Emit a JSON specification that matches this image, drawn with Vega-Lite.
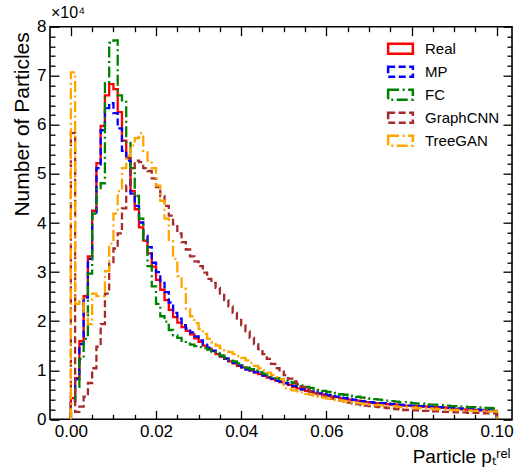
{
  "$schema": "https://vega.github.io/schema/vega-lite/v6.json",
  "width": 462,
  "height": 392.6,
  "autosize": {"type": "none"},
  "padding": {"left": 50, "top": 26.7, "right": 8, "bottom": 49.7},
  "title": {"text": "×10⁴", "anchor": "start", "frame": "group", "fontSize": 16, "fontWeight": "normal", "font": "Liberation Sans", "color": "black", "offset": -3, "dx": 1},
  "config": {
    "view": {"stroke": "black", "strokeWidth": 1.6},
    "font": "Liberation Sans",
    "axis": {"domain": false, "grid": false, "tickColor": "black", "tickWidth": 1.3, "labelColor": "black", "labelFont": "Liberation Sans", "labelFontSize": 17, "labelOverlap": false, "labelFlush": false, "titleColor": "black", "titleFont": "Liberation Sans", "titleFontWeight": "normal"}
  },
  "data": {"values": [
    {"i":0,"x":0,"Real":0,"MP":0,"FC":0,"GraphCNN":0,"TreeGAN":0},
    {"i":1,"x":0.000,"Real":4300,"MP":3700,"FC":3100,"GraphCNN":58300,"TreeGAN":70700},
    {"i":2,"x":0.001,"Real":8400,"MP":8200,"FC":6600,"GraphCNN":1500,"TreeGAN":23500},
    {"i":3,"x":0.002,"Real":15900,"MP":15300,"FC":12300,"GraphCNN":2600,"TreeGAN":24600},
    {"i":4,"x":0.003,"Real":25100,"MP":24800,"FC":16400,"GraphCNN":4600,"TreeGAN":21500},
    {"i":5,"x":0.004,"Real":33200,"MP":32700,"FC":29700,"GraphCNN":7400,"TreeGAN":19400},
    {"i":6,"x":0.005,"Real":42500,"MP":42100,"FC":41900,"GraphCNN":10400,"TreeGAN":25600},
    {"i":7,"x":0.006,"Real":52200,"MP":51200,"FC":47100,"GraphCNN":14800,"TreeGAN":25100},
    {"i":8,"x":0.007,"Real":59800,"MP":58900,"FC":48100,"GraphCNN":19400,"TreeGAN":25100},
    {"i":9,"x":0.008,"Real":66000,"MP":63400,"FC":68500,"GraphCNN":25600,"TreeGAN":30200},
    {"i":10,"x":0.009,"Real":68300,"MP":64400,"FC":76700,"GraphCNN":31700,"TreeGAN":35800},
    {"i":11,"x":0.010,"Real":67300,"MP":62400,"FC":77200,"GraphCNN":34800,"TreeGAN":41900},
    {"i":12,"x":0.011,"Real":62600,"MP":59300,"FC":66000,"GraphCNN":37900,"TreeGAN":46500},
    {"i":13,"x":0.012,"Real":56800,"MP":54700,"FC":65000,"GraphCNN":43000,"TreeGAN":51200},
    {"i":14,"x":0.013,"Real":53200,"MP":52700,"FC":56300,"GraphCNN":47600,"TreeGAN":53700},
    {"i":15,"x":0.014,"Real":46500,"MP":46000,"FC":51200,"GraphCNN":51200,"TreeGAN":55800},
    {"i":16,"x":0.015,"Real":42800,"MP":43500,"FC":45500,"GraphCNN":52700,"TreeGAN":57300},
    {"i":17,"x":0.016,"Real":39100,"MP":40100,"FC":40900,"GraphCNN":52400,"TreeGAN":58300},
    {"i":18,"x":0.017,"Real":36400,"MP":37400,"FC":36400,"GraphCNN":51200,"TreeGAN":54700},
    {"i":19,"x":0.018,"Real":33800,"MP":35100,"FC":31200,"GraphCNN":50600,"TreeGAN":52700},
    {"i":20,"x":0.019,"Real":31100,"MP":31900,"FC":27100,"GraphCNN":49100,"TreeGAN":51200},
    {"i":21,"x":0.020,"Real":28400,"MP":30000,"FC":23500,"GraphCNN":47300,"TreeGAN":47600},
    {"i":22,"x":0.021,"Real":26400,"MP":27800,"FC":21000,"GraphCNN":45500,"TreeGAN":44500},
    {"i":23,"x":0.022,"Real":24300,"MP":25900,"FC":19900,"GraphCNN":43500,"TreeGAN":40900},
    {"i":24,"x":0.023,"Real":22300,"MP":23800,"FC":18200,"GraphCNN":41500,"TreeGAN":36300},
    {"i":25,"x":0.024,"Real":20800,"MP":21700,"FC":17100,"GraphCNN":39700,"TreeGAN":32700},
    {"i":26,"x":0.025,"Real":19700,"MP":20500,"FC":16600,"GraphCNN":37900,"TreeGAN":29200},
    {"i":27,"x":0.026,"Real":18800,"MP":19200,"FC":16000,"GraphCNN":36100,"TreeGAN":26600},
    {"i":28,"x":0.027,"Real":18000,"MP":18500,"FC":15400,"GraphCNN":34600,"TreeGAN":22500},
    {"i":29,"x":0.028,"Real":17300,"MP":17700,"FC":15200,"GraphCNN":33200,"TreeGAN":21000},
    {"i":30,"x":0.029,"Real":16500,"MP":16900,"FC":14900,"GraphCNN":32200,"TreeGAN":19600},
    {"i":31,"x":0.030,"Real":15800,"MP":16100,"FC":14700,"GraphCNN":31200,"TreeGAN":18400},
    {"i":32,"x":0.031,"Real":15000,"MP":15200,"FC":14500,"GraphCNN":29900,"TreeGAN":17400},
    {"i":33,"x":0.032,"Real":14400,"MP":14600,"FC":14200,"GraphCNN":28600,"TreeGAN":16400},
    {"i":34,"x":0.033,"Real":13900,"MP":14000,"FC":13800,"GraphCNN":27800,"TreeGAN":15700},
    {"i":35,"x":0.034,"Real":13300,"MP":13400,"FC":13400,"GraphCNN":26800,"TreeGAN":15000},
    {"i":36,"x":0.035,"Real":12800,"MP":12900,"FC":13000,"GraphCNN":25600,"TreeGAN":14500},
    {"i":37,"x":0.036,"Real":12300,"MP":12400,"FC":12600,"GraphCNN":24300,"TreeGAN":14100},
    {"i":38,"x":0.037,"Real":11800,"MP":11900,"FC":12200,"GraphCNN":23000,"TreeGAN":13700},
    {"i":39,"x":0.038,"Real":11400,"MP":11500,"FC":11800,"GraphCNN":21700,"TreeGAN":13300},
    {"i":40,"x":0.039,"Real":10900,"MP":11000,"FC":11400,"GraphCNN":20500,"TreeGAN":12900},
    {"i":41,"x":0.040,"Real":10600,"MP":10600,"FC":11000,"GraphCNN":19200,"TreeGAN":12500},
    {"i":42,"x":0.041,"Real":10200,"MP":10200,"FC":10500,"GraphCNN":17900,"TreeGAN":12000},
    {"i":43,"x":0.042,"Real":9900,"MP":9900,"FC":10200,"GraphCNN":16600,"TreeGAN":11500},
    {"i":44,"x":0.043,"Real":9500,"MP":9600,"FC":9900,"GraphCNN":15300,"TreeGAN":10900},
    {"i":45,"x":0.044,"Real":9200,"MP":9200,"FC":9600,"GraphCNN":14300,"TreeGAN":10400},
    {"i":46,"x":0.045,"Real":8900,"MP":8900,"FC":9300,"GraphCNN":13300,"TreeGAN":10000},
    {"i":47,"x":0.046,"Real":8500,"MP":8600,"FC":9000,"GraphCNN":12300,"TreeGAN":9500},
    {"i":48,"x":0.047,"Real":8200,"MP":8300,"FC":8700,"GraphCNN":11300,"TreeGAN":9000},
    {"i":49,"x":0.048,"Real":7900,"MP":7900,"FC":8400,"GraphCNN":10400,"TreeGAN":8600},
    {"i":50,"x":0.049,"Real":7600,"MP":7700,"FC":8200,"GraphCNN":9700,"TreeGAN":8200},
    {"i":51,"x":0.050,"Real":7300,"MP":7400,"FC":7900,"GraphCNN":9000,"TreeGAN":6300},
    {"i":52,"x":0.051,"Real":7000,"MP":7100,"FC":7600,"GraphCNN":8300,"TreeGAN":6100},
    {"i":53,"x":0.052,"Real":6600,"MP":6800,"FC":7400,"GraphCNN":7700,"TreeGAN":5900},
    {"i":54,"x":0.053,"Real":6300,"MP":6400,"FC":7100,"GraphCNN":7200,"TreeGAN":5700},
    {"i":55,"x":0.054,"Real":6100,"MP":6100,"FC":6900,"GraphCNN":6600,"TreeGAN":5500},
    {"i":56,"x":0.055,"Real":5800,"MP":5900,"FC":6600,"GraphCNN":6100,"TreeGAN":5200},
    {"i":57,"x":0.056,"Real":5600,"MP":5700,"FC":6400,"GraphCNN":5700,"TreeGAN":5000},
    {"i":58,"x":0.057,"Real":5400,"MP":5500,"FC":6200,"GraphCNN":5300,"TreeGAN":4800},
    {"i":59,"x":0.058,"Real":5200,"MP":5300,"FC":6000,"GraphCNN":5000,"TreeGAN":4600},
    {"i":60,"x":0.059,"Real":5000,"MP":5100,"FC":5800,"GraphCNN":4700,"TreeGAN":4400},
    {"i":61,"x":0.060,"Real":4800,"MP":4900,"FC":5600,"GraphCNN":4400,"TreeGAN":4200},
    {"i":62,"x":0.061,"Real":4600,"MP":4700,"FC":5400,"GraphCNN":4200,"TreeGAN":4100},
    {"i":63,"x":0.062,"Real":4500,"MP":4600,"FC":5300,"GraphCNN":4000,"TreeGAN":3900},
    {"i":64,"x":0.063,"Real":4300,"MP":4400,"FC":5100,"GraphCNN":3800,"TreeGAN":3800},
    {"i":65,"x":0.064,"Real":4200,"MP":4300,"FC":5000,"GraphCNN":3600,"TreeGAN":3600},
    {"i":66,"x":0.065,"Real":4000,"MP":4100,"FC":4800,"GraphCNN":3400,"TreeGAN":3500},
    {"i":67,"x":0.066,"Real":3900,"MP":4000,"FC":4700,"GraphCNN":3200,"TreeGAN":3400},
    {"i":68,"x":0.067,"Real":3800,"MP":3900,"FC":4600,"GraphCNN":3100,"TreeGAN":3300},
    {"i":69,"x":0.068,"Real":3600,"MP":3700,"FC":4400,"GraphCNN":2900,"TreeGAN":3200},
    {"i":70,"x":0.069,"Real":3500,"MP":3600,"FC":4300,"GraphCNN":2800,"TreeGAN":3100},
    {"i":71,"x":0.070,"Real":3400,"MP":3500,"FC":4200,"GraphCNN":2700,"TreeGAN":3000},
    {"i":72,"x":0.071,"Real":3300,"MP":3400,"FC":4100,"GraphCNN":2600,"TreeGAN":2900},
    {"i":73,"x":0.072,"Real":3200,"MP":3300,"FC":4000,"GraphCNN":2500,"TreeGAN":2900},
    {"i":74,"x":0.073,"Real":3200,"MP":3300,"FC":3900,"GraphCNN":2400,"TreeGAN":2800},
    {"i":75,"x":0.074,"Real":3100,"MP":3200,"FC":3800,"GraphCNN":2300,"TreeGAN":2700},
    {"i":76,"x":0.075,"Real":3000,"MP":3100,"FC":3700,"GraphCNN":2200,"TreeGAN":2700},
    {"i":77,"x":0.076,"Real":3000,"MP":3000,"FC":3600,"GraphCNN":2100,"TreeGAN":2600},
    {"i":78,"x":0.077,"Real":2900,"MP":3000,"FC":3500,"GraphCNN":2000,"TreeGAN":2500},
    {"i":79,"x":0.078,"Real":2800,"MP":2900,"FC":3500,"GraphCNN":1900,"TreeGAN":2500},
    {"i":80,"x":0.079,"Real":2800,"MP":2800,"FC":3400,"GraphCNN":1900,"TreeGAN":2400},
    {"i":81,"x":0.080,"Real":2700,"MP":2800,"FC":3300,"GraphCNN":1800,"TreeGAN":2400},
    {"i":82,"x":0.081,"Real":2700,"MP":2700,"FC":3200,"GraphCNN":1800,"TreeGAN":2300},
    {"i":83,"x":0.082,"Real":2600,"MP":2700,"FC":3200,"GraphCNN":1700,"TreeGAN":2300},
    {"i":84,"x":0.083,"Real":2600,"MP":2600,"FC":3100,"GraphCNN":1700,"TreeGAN":2200},
    {"i":85,"x":0.084,"Real":2500,"MP":2600,"FC":3000,"GraphCNN":1600,"TreeGAN":2200},
    {"i":86,"x":0.085,"Real":2500,"MP":2500,"FC":3000,"GraphCNN":1600,"TreeGAN":2100},
    {"i":87,"x":0.086,"Real":2400,"MP":2500,"FC":2900,"GraphCNN":1600,"TreeGAN":2100},
    {"i":88,"x":0.087,"Real":2400,"MP":2400,"FC":2900,"GraphCNN":1500,"TreeGAN":2000},
    {"i":89,"x":0.088,"Real":2300,"MP":2400,"FC":2800,"GraphCNN":1500,"TreeGAN":2000},
    {"i":90,"x":0.089,"Real":2300,"MP":2300,"FC":2700,"GraphCNN":1500,"TreeGAN":1900},
    {"i":91,"x":0.090,"Real":2100,"MP":2200,"FC":2700,"GraphCNN":1400,"TreeGAN":1900},
    {"i":92,"x":0.091,"Real":2100,"MP":2200,"FC":2600,"GraphCNN":1400,"TreeGAN":1900},
    {"i":93,"x":0.092,"Real":2000,"MP":2100,"FC":2600,"GraphCNN":1400,"TreeGAN":1800},
    {"i":94,"x":0.093,"Real":2000,"MP":2100,"FC":2500,"GraphCNN":1300,"TreeGAN":1800},
    {"i":95,"x":0.094,"Real":1900,"MP":2000,"FC":2500,"GraphCNN":1300,"TreeGAN":1700},
    {"i":96,"x":0.095,"Real":1900,"MP":2000,"FC":2400,"GraphCNN":1300,"TreeGAN":1700},
    {"i":97,"x":0.096,"Real":1800,"MP":1900,"FC":2400,"GraphCNN":1300,"TreeGAN":1700},
    {"i":98,"x":0.097,"Real":1800,"MP":1900,"FC":2300,"GraphCNN":1200,"TreeGAN":1600},
    {"i":99,"x":0.098,"Real":1700,"MP":1800,"FC":2300,"GraphCNN":1200,"TreeGAN":1600},
    {"i":100,"x":0.099,"Real":1700,"MP":1800,"FC":2200,"GraphCNN":1200,"TreeGAN":1600},
    {"i":101,"x":0.100,"Real":1700,"MP":1800,"FC":2200,"GraphCNN":1200,"TreeGAN":1600},
    {"i":102,"x":0.100,"Real":0,"MP":0,"FC":0,"GraphCNN":0,"TreeGAN":0}
  ]},
  "transform": [{"fold": ["Real", "MP", "FC", "GraphCNN", "TreeGAN"], "as": ["series", "count"]}],
  "layer": [
    {
      "mark": {"type": "line", "interpolate": "step-after", "strokeWidth": 2.3},
      "encoding": {
        "x": {"field": "x", "type": "quantitative",
          "scale": {"domain": [-0.0049, 0.1036], "nice": false, "zero": false},
          "axis": {"orient": "bottom",
            "values": [0,0.005,0.01,0.015,0.02,0.025,0.03,0.035,0.04,0.045,0.05,0.055,0.06,0.065,0.07,0.075,0.08,0.085,0.09,0.095,0.1],
            "labelExpr": "abs(datum.value*50 - round(datum.value*50)) < 0.01 ? format(datum.value, '.2f') : ''",
            "tickSize": {"condition": {"test": "abs(datum.value*50 - round(datum.value*50)) < 0.01", "value": -9}, "value": -5},
            "labelPadding": 13,
            "title": "Particle pₜʳᵉˡ", "titleFontSize": 19, "titleAnchor": "end", "titleAlign": "right", "titleBaseline": "alphabetic", "titleX": 460, "titleY": 43.5}},
        "y": {"field": "count", "type": "quantitative",
          "scale": {"domain": [0, 80000], "nice": false},
          "axis": {"orient": "left",
            "values": [0,2000,4000,6000,8000,10000,12000,14000,16000,18000,20000,22000,24000,26000,28000,30000,32000,34000,36000,38000,40000,42000,44000,46000,48000,50000,52000,54000,56000,58000,60000,62000,64000,66000,68000,70000,72000,74000,76000,78000,80000],
            "labelExpr": "datum.value % 10000 == 0 ? '' + (datum.value / 10000) : ''",
            "tickSize": {"condition": {"test": "datum.value % 10000 == 0", "value": -9}, "value": -5},
            "labelPadding": 13,
            "title": "Number of Particles", "titleFontSize": 21, "titleAnchor": "end", "titleAlign": "right", "titleBaseline": "middle", "titleAngle": -90, "titleX": -28, "titleY": 5}},
        "order": {"field": "i", "type": "quantitative"},
        "color": {"field": "series", "type": "nominal",
          "scale": {"domain": ["Real", "MP", "FC", "GraphCNN", "TreeGAN"], "range": ["#ff0000", "#0000ff", "#008000", "#a52a2a", "#ffa500"]},
          "legend": {"title": null, "orient": "none", "legendX": 338, "legendY": 9.5, "direction": "vertical", "padding": 0,
            "symbolType": "M-1.1,-0.45H1.1V0.45H-1.1Z", "symbolSize": 506, "symbolStrokeWidth": 2.5, "symbolFillColor": "transparent",
            "labelFont": "Liberation Sans", "labelFontSize": 15, "labelColor": "black", "labelOffset": 12, "rowPadding": 0}},
        "strokeDash": {"field": "series", "type": "nominal",
          "scale": {"domain": ["Real", "MP", "FC", "GraphCNN", "TreeGAN"], "range": [[1, 0], [7, 3.5], [11, 3.5, 2, 3.5], [7, 3.5], [11, 3.5, 2, 3.5]]},
          "legend": {"title": null, "orient": "none", "legendX": 338, "legendY": 9.5, "direction": "vertical", "padding": 0,
            "symbolType": "M-1.1,-0.45H1.1V0.45H-1.1Z", "symbolSize": 506, "symbolStrokeWidth": 2.5, "symbolFillColor": "transparent",
            "labelFont": "Liberation Sans", "labelFontSize": 15, "labelColor": "black", "labelOffset": 12, "rowPadding": 0}}
      }
    },
    {
      "mark": {"type": "line", "opacity": 0},
      "encoding": {
        "x": {"field": "x", "type": "quantitative",
          "axis": {"orient": "top", "labels": false, "title": null,
            "values": [0,0.005,0.01,0.015,0.02,0.025,0.03,0.035,0.04,0.045,0.05,0.055,0.06,0.065,0.07,0.075,0.08,0.085,0.09,0.095,0.1],
            "tickSize": {"condition": {"test": "abs(datum.value*50 - round(datum.value*50)) < 0.01", "value": -9}, "value": -5}}},
        "y": {"field": "count", "type": "quantitative",
          "axis": {"orient": "right", "labels": false, "title": null,
            "values": [0,2000,4000,6000,8000,10000,12000,14000,16000,18000,20000,22000,24000,26000,28000,30000,32000,34000,36000,38000,40000,42000,44000,46000,48000,50000,52000,54000,56000,58000,60000,62000,64000,66000,68000,70000,72000,74000,76000,78000,80000],
            "tickSize": {"condition": {"test": "datum.value % 10000 == 0", "value": -9}, "value": -5}}},
        "detail": {"field": "series", "type": "nominal"},
        "order": {"field": "i", "type": "quantitative"}
      }
    }
  ],
  "resolve": {"axis": {"x": "independent", "y": "independent"}}
}
